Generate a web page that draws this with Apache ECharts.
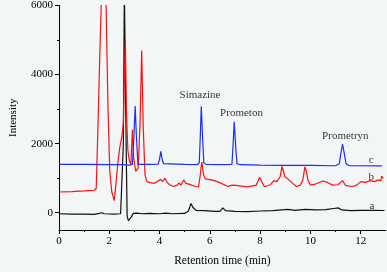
<!DOCTYPE html>
<html>
<head>
<meta charset="utf-8">
<script src="https://cdn.jsdelivr.net/npm/echarts@6/dist/echarts.min.js"></script>
<style>
html,body{margin:0;padding:0;background:#f2f6f7;}
#c{width:387px;height:272px;}
</style>
</head>
<body>
<div id="c"></div>
<script>
// Retention time (min), intensity pairs
const seriesA = [[0,-30],[0.5,-40],[1,-40],[1.4,-45],[1.6,-20],[1.7,0],[1.8,-30],[2.2,-40],[2.45,-30],[2.52,0],[2.56,2000],[2.6,6500],[2.64,6500],[2.67,2000],[2.71,-100],[2.76,-230],[2.82,-240],[2.88,-120],[2.95,-20],[3.0,30],[3.1,-10],[3.3,-30],[3.6,-20],[4,-30],[4.25,-10],[4.5,-30],[5.0,-20],[5.15,50],[5.25,270],[5.33,150],[5.45,70],[5.8,60],[6.2,40],[6.4,40],[6.52,140],[6.62,60],[7,40],[7.5,30],[8,50],[8.5,60],[9.1,95],[9.4,70],[9.8,95],[10.2,80],[10.6,90],[11.0,130],[11.1,140],[11.25,80],[11.6,60],[12,70],[12.5,70],[12.95,65]];
const seriesB = [[0,600],[0.5,610],[1,630],[1.4,650],[1.48,700],[1.55,2500],[1.62,4500],[1.7,6500],[1.86,6500],[1.95,3000],[2.02,1200],[2.1,600],[2.2,350],[2.27,380],[2.35,1500],[2.42,1900],[2.5,2200],[2.56,2600],[2.6,4000],[2.64,5000],[2.68,3000],[2.74,1800],[2.8,1500],[2.86,1400],[2.92,2400],[2.97,1600],[3.05,1200],[3.15,1300],[3.22,2500],[3.29,4700],[3.35,2500],[3.42,1100],[3.5,900],[3.6,880],[3.8,850],[4.05,970],[4.12,900],[4.22,1000],[4.3,880],[4.4,810],[4.57,760],[4.7,800],[4.77,860],[4.85,800],[4.96,950],[5.05,850],[5.2,820],[5.42,760],[5.55,750],[5.62,1100],[5.68,1470],[5.75,1100],[5.82,980],[6.06,950],[6.3,900],[6.46,850],[6.72,760],[6.88,800],[6.95,840],[7.05,790],[7.17,780],[7.5,750],[7.85,800],[7.98,1030],[8.08,880],[8.16,760],[8.3,780],[8.41,810],[8.54,930],[8.67,900],[8.8,1050],[8.87,1340],[8.93,1200],[8.98,1050],[9.1,980],[9.3,850],[9.45,760],[9.6,800],[9.7,950],[9.78,1330],[9.84,1200],[9.9,950],[10.0,800],[10.2,830],[10.5,920],[10.7,870],[10.89,800],[11.1,810],[11.28,930],[11.4,790],[11.66,760],[11.85,800],[12.0,900],[12.2,880],[12.38,930],[12.55,900],[12.7,950],[12.8,920],[12.84,1060],[12.9,990]];
const seriesC = [[0,1400],[1,1400],[2,1390],[2.5,1390],[2.8,1380],[2.92,1400],[2.98,2200],[3.03,3090],[3.08,2200],[3.14,1400],[3.3,1400],[3.6,1400],[3.95,1410],[4.0,1550],[4.05,1780],[4.1,1550],[4.16,1420],[5,1400],[5.5,1390],[5.58,1450],[5.62,2200],[5.66,3080],[5.71,2200],[5.76,1450],[5.85,1400],[6.5,1390],[6.88,1400],[6.92,1900],[6.97,2630],[7.03,1900],[7.08,1420],[7.2,1390],[8,1380],[9,1370],[10,1370],[11,1360],[11.15,1420],[11.22,1750],[11.28,1990],[11.34,1750],[11.42,1420],[11.55,1360],[12.84,1355]];
const xMajorTicks = [0,2,4,6,8,10,12];
const xMinorTicks = [1,3,5,7,9,11];
const yMajorTicks = [0,2000,4000,6000];
const yMinorTicks = [1000,3000,5000];
const annotations = [
  {name:'Simazine', value:[5.61,3410]},
  {name:'Prometon', value:[7.26,2890]},
  {name:'Prometryn', value:[11.39,2230]},
  {name:'c', value:[12.42,1517]},
  {name:'b', value:[12.42,1043]},
  {name:'a', value:[12.45,190]}
];

const FONT = "'Liberation Serif', 'Times New Roman', serif";
const chart = echarts.init(document.getElementById('c'), null, {renderer:'canvas'});
const axisLine = {show:true, onZero:false, lineStyle:{color:'#000', width:1}};
chart.setOption({
  backgroundColor:'#f2f6f7',
  animation:false,
  grid:{left:53, top:5.5, right:1.2, bottom:37.7},
  xAxis:[{
    type:'value', min:0, max:13,
    axisLine:axisLine,
    axisTick:{show:true, inside:false, length:4, customValues:xMajorTicks, lineStyle:{color:'#000'}},
    axisLabel:{customValues:xMajorTicks, formatter:v=>String(v), fontFamily:FONT, fontSize:11, color:'#000', margin:6},
    splitLine:{show:false},
    name:'Retention time (min)', nameLocation:'middle', nameGap:25,
    nameTextStyle:{fontFamily:FONT, fontSize:11.5, color:'#000'}
  },{
    type:'value', min:0, max:13, position:'bottom',
    axisLine:{show:false, onZero:false},
    axisTick:{show:true, inside:false, length:2, customValues:xMinorTicks, lineStyle:{color:'#000'}},
    axisLabel:{show:false}, splitLine:{show:false}
  }],
  yAxis:[{
    type:'value', min:-500, max:6000,
    axisLine:axisLine,
    axisTick:{show:true, inside:false, length:4, customValues:yMajorTicks, lineStyle:{color:'#000'}},
    axisLabel:{customValues:yMajorTicks, formatter:v=>String(v), fontFamily:FONT, fontSize:11, color:'#000', margin:6},
    splitLine:{show:false},
    name:'Intensity', nameLocation:'middle', nameGap:40, nameRotate:90,
    nameTextStyle:{fontFamily:FONT, fontSize:11, color:'#000'}
  },{
    type:'value', min:-500, max:6000, position:'left',
    axisLine:{show:false, onZero:false},
    axisTick:{show:true, inside:false, length:2, customValues:yMinorTicks, lineStyle:{color:'#000'}},
    axisLabel:{show:false}, splitLine:{show:false}
  }],
  series:[
    {name:'a', type:'line', data:seriesA, showSymbol:false, symbol:'none', clip:true,
     lineStyle:{color:'#111', width:1.2}, z:2},
    {name:'b', type:'line', data:seriesB, showSymbol:false, symbol:'none', clip:true,
     lineStyle:{color:'#ff1010', width:1.2}, z:3},
    {name:'c', type:'line', data:seriesC, showSymbol:false, symbol:'none', clip:true,
     lineStyle:{color:'#1e2dff', width:1.2}, z:4},
    {name:'labels', type:'scatter', data:annotations, symbolSize:0, z:5, silent:true,
     label:{show:true, position:'inside', formatter:'{b}', fontFamily:FONT, fontSize:11, color:'#000'}}
  ]
});
</script>
</body>
</html>
